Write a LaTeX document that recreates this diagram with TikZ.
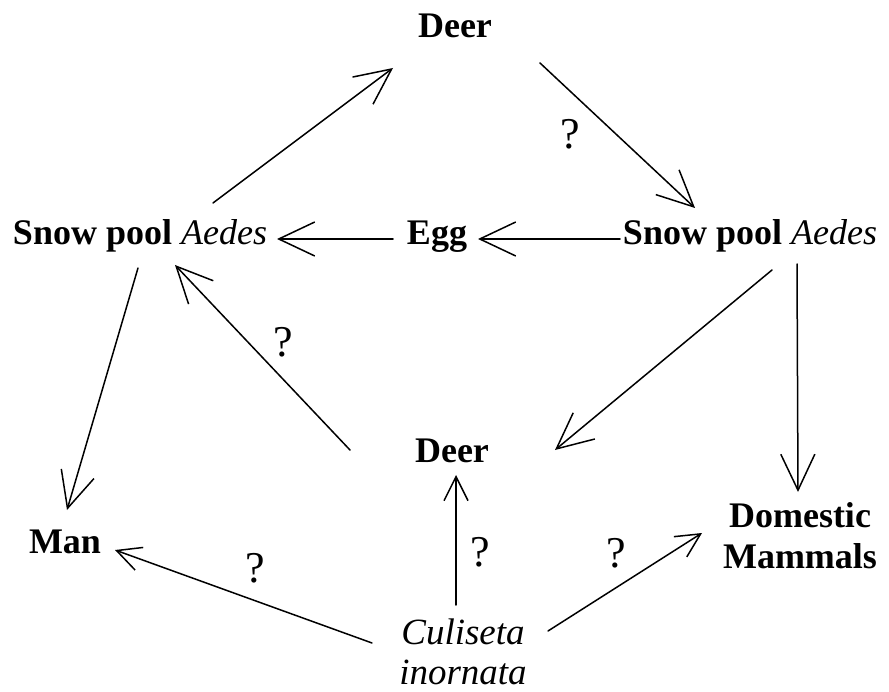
\documentclass[tikz,border=0pt]{standalone}
\usepackage{fontspec}
\setmainfont{Liberation Serif}
\usetikzlibrary{arrows.meta}

\begin{document}
\begin{tikzpicture}[x=1pt,y=-1pt,line width=1.5pt,line cap=round,
  lbl/.style={font=\fontsize{36}{41}\selectfont\bfseries,inner sep=0pt,anchor=base},
  twoline/.style={font=\fontsize{36}{41}\selectfont,inner sep=0pt,anchor=north,align=center},
  qmark/.style={font=\fontsize{44}{48}\selectfont,inner sep=0pt},
  arr/.style={-{Straight Barb[length=36pt,width=34pt]}},
  sarr/.style={-{Straight Barb[length=24pt,width=24pt]}}]
\def\genus{\mdseries\itshape Aedes} % italic genus name
\useasboundingbox (0,0) rectangle (889,692);
% hosts and vectors
\node[lbl] (deerTop) at (455,38) {Deer};
\node[lbl] (aedesL) at (140,245) {Snow pool \genus};
\node[lbl] (egg) at (437,245) {Egg};
\node[lbl] (aedesR) at (750,245) {Snow pool \genus};
\node[lbl] (deerMid) at (452,462) {Deer};
\node[lbl] (man) at (65,553) {Man};
\node[twoline,font=\fontsize{36}{41}\selectfont\bfseries] (domestic) at (800,502) {Domestic\\Mammals};
\node[twoline,font=\fontsize{37}{40}\selectfont\itshape] (culiseta) at (463,618) {Culiseta\\inornata};
% question marks
\node[qmark] (q1) at (570,134) {?};
\node[qmark] (q2) at (283,342) {?};
\node[qmark] (q3) at (255,568) {?};
\node[qmark] (q4) at (480,552) {?};
\node[qmark] (q5) at (616,553) {?};
% transmission
\draw[arr] ([shift={(73,-42)}]aedesL.base) -- ([shift={(-62,30)}]deerTop.base);
\draw[arr] ([shift={(85,25)}]deerTop.base) -- ([shift={(-55,-37)}]aedesR.base);
\draw[arr] ([shift={(-130,-6)}]aedesR.base) -- ([shift={(41,-6)}]egg.base);
\draw[arr] ([shift={(-44,-6)}]egg.base) -- ([shift={(137,-6)}]aedesL.base);
\draw[arr] ([shift={(-2,23)}]aedesL.base) -- ([shift={(2,-43)}]man.base);
\draw[arr] ([shift={(-102,-12)}]deerMid.base) -- ([shift={(35,20)}]aedesL.base);
\draw[arr] ([shift={(22,25)}]aedesR.base) -- ([shift={(103,-12)}]deerMid.base);
\draw[arr] ([shift={(47,19)}]aedesR.base) -- ([shift={(-2,-10)}]domestic.north);
\draw[sarr] ([shift={(-91,25)}]culiseta.north) -- ([shift={(50,-3)}]man.base);
\draw[sarr] ([shift={(-7,-13)}]culiseta.north) -- ([shift={(4,13)}]deerMid.base);
\draw[sarr] ([shift={(85,13)}]culiseta.north) -- ([shift={(-98,31)}]domestic.north);
\end{tikzpicture}
\end{document}
